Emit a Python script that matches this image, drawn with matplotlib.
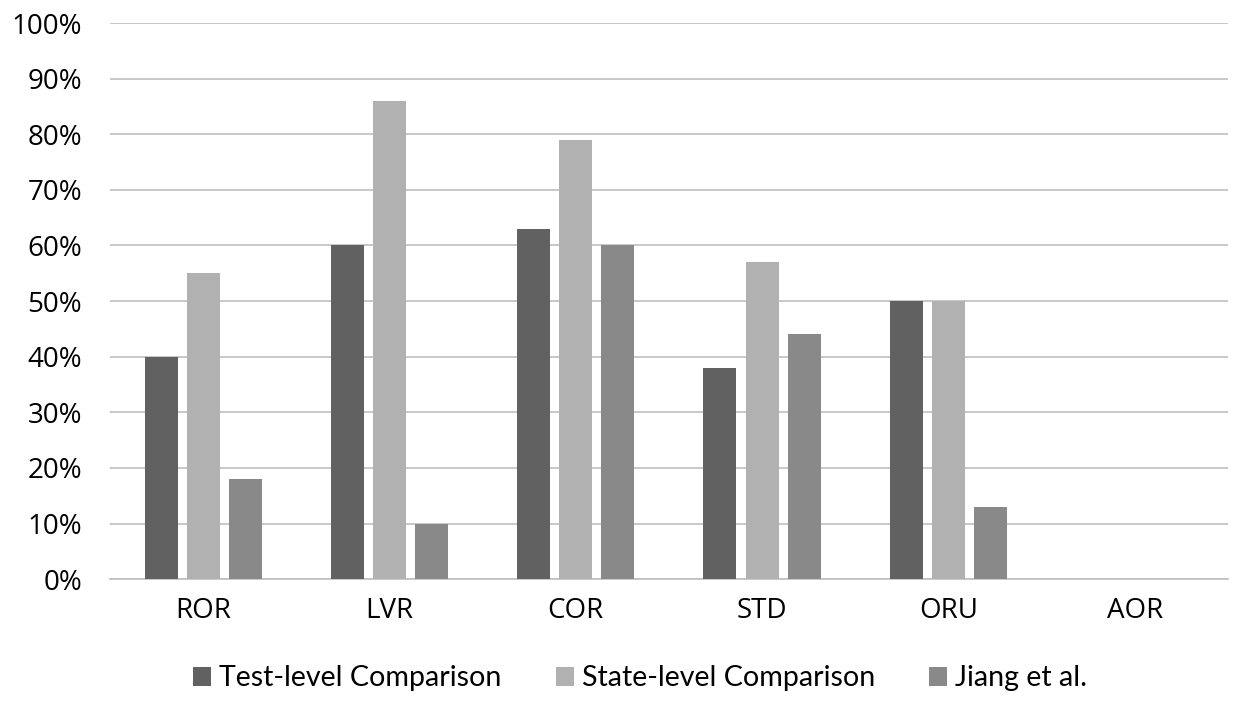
import numpy as np
import matplotlib
matplotlib.use("Agg")
import matplotlib.pyplot as plt
from matplotlib.ticker import PercentFormatter

plt.rcParams['font.family'] = ['Open Sans', 'DejaVu Sans']

categories = ['ROR', 'LVR', 'COR', 'STD', 'ORU', 'AOR']
test_level = [40, 60, 63, 38, 50, 0]
state_level = [55, 86, 79, 57, 50, 0]
jiang = [18, 10, 60, 44, 13, 0]
series_names = ['Test-level Comparison', 'State-level Comparison', 'Jiang et al.']
colors = ['#616161', '#b1b1b1', '#898989']

fig = plt.figure(figsize=(12.44, 7.08), dpi=100)
ax = fig.add_axes([0.0884, 0.182, 0.8986, 0.7855])

x = np.arange(len(categories))
w = 0.177
step = 0.226
for i, (vals, name, c) in enumerate(zip([test_level, state_level, jiang], series_names, colors)):
    ax.bar(x + (i - 1) * step, vals, width=w, color=c, label=name, zorder=3)

ax.set_xlim(-0.5, len(categories) - 0.5)
ax.set_ylim(0, 100)
ax.set_yticks(np.arange(0, 101, 10))
ax.yaxis.set_major_formatter(PercentFormatter(decimals=0))
ax.set_xticks(x)
ax.set_xticklabels(categories)
ax.grid(axis='y', color='#bfbfbf', linewidth=1.2, zorder=0)
for s in ['top', 'right', 'left']:
    ax.spines[s].set_visible(False)
ax.spines['bottom'].set_color('#bfbfbf')
ax.spines['bottom'].set_linewidth(1.2)
ax.tick_params(axis='both', length=0, labelsize=20, colors='black')
ax.tick_params(axis='x', pad=13)
ax.tick_params(axis='y', pad=20)

leg = fig.legend(loc='center', bbox_to_anchor=(0.5145, 0.042), ncol=3, frameon=False,
                 prop={'family': ['Lato', 'DejaVu Sans'], 'size': 20.6},
                 handlelength=0.63, handleheight=0.63, handletextpad=0.28,
                 columnspacing=1.9)

fig.savefig('out.png', dpi=100)
